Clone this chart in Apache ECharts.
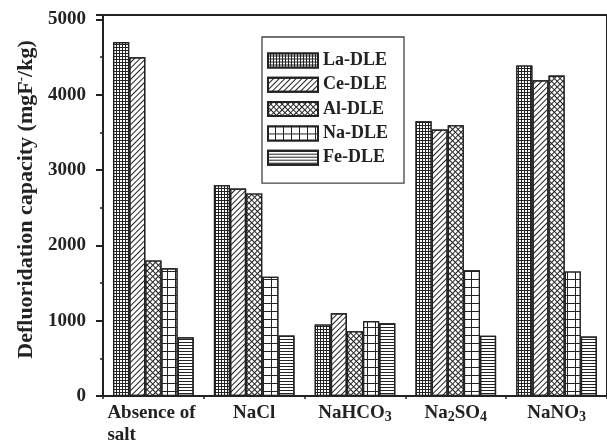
<!DOCTYPE html>
<html>
<head>
<meta charset="utf-8">
<script src="https://cdn.jsdelivr.net/npm/echarts@6/dist/echarts.min.js"></script>
<style>html,body{margin:0;padding:0;background:#fff}#c{width:607px;height:446px}</style>
</head>
<body>
<div id="c"></div>
<script>
var categories = ['{w|Absence of}\n{w|salt}', 'NaCl', 'NaHCO{sub|3}', 'Na{sub|2}SO{sub|4}', 'NaNO{sub|3}'];
var seriesNames = ['La-DLE', 'Ce-DLE', 'Al-DLE', 'Na-DLE', 'Fe-DLE'];
var laDLE = [4700, 2800, 950, 3650, 4390];
var ceDLE = [4500, 2755, 1100, 3540, 4195];
var alDLE = [1800, 2690, 860, 3595, 4255];
var naDLE = [1695, 1585, 995, 1670, 1655];
var feDLE = [780, 805, 965, 800, 790];
var yTicks = [0, 1000, 2000, 3000, 4000, 5000];

var FONT = '"Liberation Serif", "Times New Roman", serif';
var INK = '#222';

var decals = [
  {symbol: 'rect', symbolSize: 1, dashArrayX: [2, 1], dashArrayY: [2, 1], color: '#fff'},
  {symbol: 'rect', symbolSize: 1, dashArrayX: [1, 0], dashArrayY: [1, 2.6], rotation: -Math.PI / 4, color: INK},
  {symbol: 'rect', symbolSize: 1, dashArrayX: [3, 1], dashArrayY: [3, 1], rotation: Math.PI / 4, color: '#fff'},
  {symbol: 'rect', symbolSize: 1, dashArrayX: [7, 1], dashArrayY: [7, 1], color: '#fff'},
  {symbol: 'rect', symbolSize: 1, dashArrayX: [1, 0], dashArrayY: [1, 2], color: INK}
];
var baseColors = [INK, '#fff', INK, INK, '#fff'];
var values = [laDLE, ceDLE, alDLE, naDLE, feDLE];

var series = seriesNames.map(function (n, i) {
  return {
    name: n,
    type: 'bar',
    data: values[i],
    barGap: '0%',
    barCategoryGap: '20%',
    itemStyle: {color: baseColors[i], borderColor: INK, borderWidth: 1.3, decal: decals[i]}
  };
});

var chart = echarts.init(document.getElementById('c'), null, {renderer: 'canvas'});
chart.setOption({
  animation: false,
  backgroundColor: '#fff',
  aria: {enabled: false},
  grid: {left: 103, top: 15, width: 513, height: 381, show: true, borderColor: INK, borderWidth: 2, backgroundColor: 'transparent'},
  legend: {
    orient: 'vertical',
    left: 262, top: 37,
    padding: [14.5, 16, 16.5, 5],
    itemWidth: 50, itemHeight: 14, itemGap: 6.3,
    borderColor: '#444', borderWidth: 1.3,
    icon: 'rect',
    textStyle: {fontFamily: FONT, fontWeight: 'bold', fontSize: 18, lineHeight: 17, color: INK},
    data: seriesNames
  },
  xAxis: {
    type: 'category',
    data: categories,
    axisLine: {lineStyle: {color: INK, width: 2}},
    axisTick: {show: true, length: 3, lineStyle: {color: INK, width: 1.5}},
    axisLabel: {
      interval: 0, margin: 6,
      fontFamily: FONT, fontWeight: 'bold', fontSize: 19, color: INK, lineHeight: 22,
      rich: {
        w: {width: 92, align: 'left', fontFamily: FONT, fontWeight: 'bold', fontSize: 19, color: INK, lineHeight: 22},
        sub: {fontFamily: FONT, fontWeight: 'bold', fontSize: 14, color: INK, lineHeight: 12, verticalAlign: 'bottom'}
      }
    }
  },
  yAxis: {
    type: 'value',
    min: 0, max: 5060, interval: 1000,
    name: 'Defluoridation capacity (mgF{sup|-}/kg)',
    nameLocation: 'middle',
    nameGap: 66,
    nameTextStyle: {
      fontFamily: FONT, fontWeight: 'bold', fontSize: 22, color: INK,
      padding: [0, 0, 0, 12],
      rich: {sup: {fontFamily: FONT, fontWeight: 'bold', fontSize: 13, color: INK, verticalAlign: 'top', lineHeight: 12}}
    },
    axisLine: {show: true, lineStyle: {color: INK, width: 2}},
    axisTick: {show: true, length: 7, lineStyle: {color: INK, width: 2}},
    minorTick: {show: true, splitNumber: 2, length: 3, lineStyle: {color: INK, width: 1.5}},
    splitLine: {show: false},
    axisLabel: {
      margin: 17, showMaxLabel: false,
      fontFamily: FONT, fontWeight: 'bold', fontSize: 19, color: INK,
      formatter: function (v) { return yTicks.indexOf(v) >= 0 ? String(v) : ''; }
    }
  },
  series: series
});
</script>
</body>
</html>
